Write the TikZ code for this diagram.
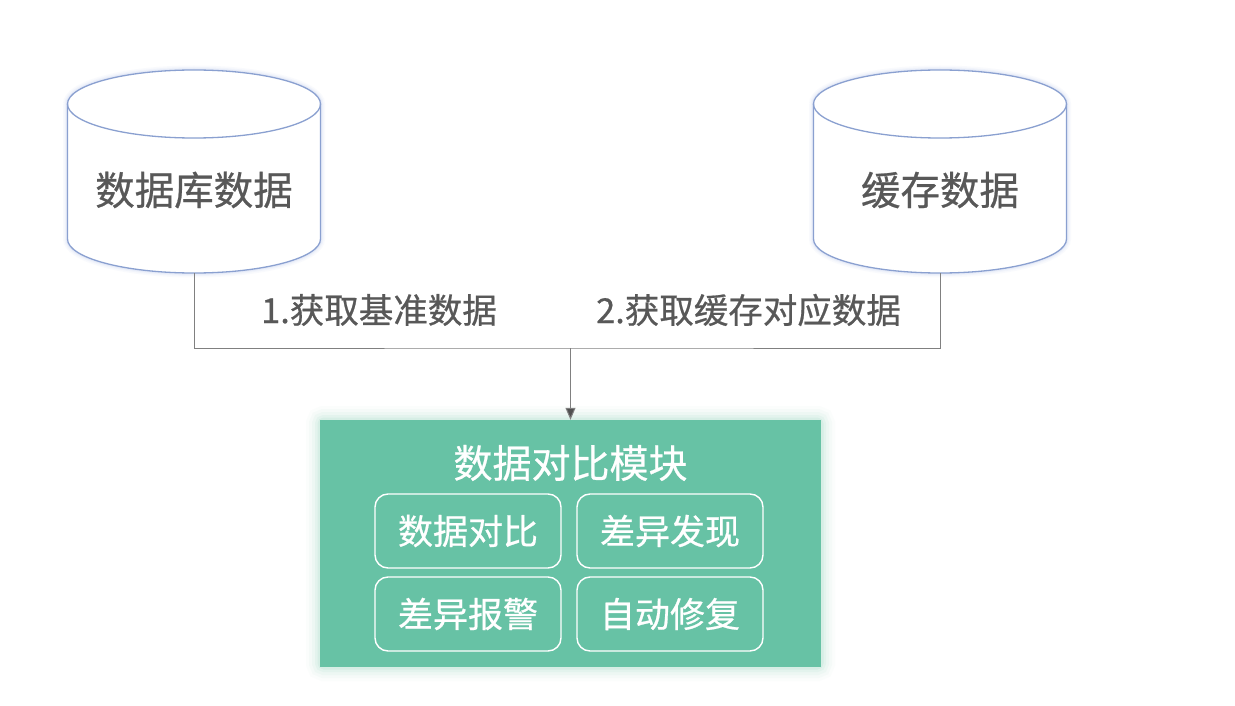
\documentclass[tikz,border=0pt]{standalone}
\usepackage{fontspec}
\setmainfont{Noto Sans CJK SC}
\newfontfamily\medfont{Noto Sans CJK SC}[FakeBold=0.6]
\usetikzlibrary{arrows.meta}
\definecolor{cylblue}{RGB}{138,160,208}
\definecolor{glowblue}{RGB}{200,212,240}
\definecolor{txtgray}{RGB}{88,88,88}
\definecolor{lingray}{RGB}{128,128,128}
\definecolor{tipgray}{RGB}{80,80,80}
\definecolor{modgreen}{RGB}{103,194,165}
\tikzset{
  cylbody/.style={minimum width=253pt, minimum height=203pt, inner sep=0pt},
  cyltext/.style={text=txtgray, font=\medfont\fontsize{39.5}{44}\selectfont, inner sep=0pt},
  steplabel/.style={text=txtgray, font=\medfont\fontsize{34.5}{40}\selectfont, inner sep=0pt},
  modbox/.style={fill=modgreen, minimum width=501pt, minimum height=247pt, inner sep=0pt},
  modtitle/.style={text=white, font=\medfont\fontsize{39}{44}\selectfont, inner sep=0pt},
  subbox/.style={draw=white, line width=1.4pt, rounded corners=13pt, minimum width=186pt, minimum height=74pt, text=white, font=\medfont\fontsize{35}{40}\selectfont, inner sep=0pt},
  conn/.style={draw=lingray, line width=1pt},
}
\newcommand\mycyl[1]{%
  \foreach \w/\o in {9/0.10,6/0.15,3.5/0.25}{
    \draw[glowblue, line width=\w pt, opacity=\o] (#1-126.5,104) -- (#1-126.5,239) arc[start angle=180, end angle=0, x radius=126.5, y radius=34] -- (#1+126.5,104) arc[start angle=0, end angle=-180, x radius=126.5, y radius=34];
  }
  \fill[white] (#1-126.5,104) -- (#1-126.5,239) arc[start angle=180, end angle=0, x radius=126.5, y radius=34] -- (#1+126.5,104) arc[start angle=0, end angle=-180, x radius=126.5, y radius=34];
  \draw[cylblue, line width=1.3pt] (#1,104) ellipse[x radius=126.5, y radius=34];
  \draw[cylblue, line width=1.3pt] (#1-126.5,104) -- (#1-126.5,239) arc[start angle=180, end angle=0, x radius=126.5, y radius=34] -- (#1+126.5,104);
}
\begin{document}
\begin{tikzpicture}[x=1pt,y=-1pt]
\useasboundingbox[fill=white] (0,0) rectangle (1235,706);
% cylinders
\mycyl{194}
\mycyl{940}
\node[cylbody] (db) at (194,171.5) {};
\node[cylbody] (cache) at (940,171.5) {};
\node[cyltext] (dbt) at (194,190) {数据库数据};
\node[cyltext] (cachet) at (940,190) {缓存数据};
% module glow
\foreach \w/\o in {28/0.025,22/0.035,16/0.05,10/0.07,5/0.1}{
  \draw[modgreen, line width=\w pt, opacity=\o, rounded corners=4pt] (320,420) rectangle (821,667);
}
\node[modbox] (mod) at (570.5,543.5) {};
\node[modtitle] (title) at (570.5,463) {数据对比模块};
\node[subbox] (s1) at (468,531) {数据对比};
\node[subbox] (s2) at (670,531) {差异发现};
\node[subbox] (s3) at (468,614) {差异报警};
\node[subbox] (s4) at (670,614) {自动修复};
% connectors
\coordinate (mid) at (570.5,348);
\draw[conn] (db.south) |- (mid) -| (cache.south);
\draw[conn, -{Triangle[length=12pt, width=10pt, fill=tipgray]}] (mid) -- (mod.north);
\node[steplabel] (l1) at (379,310) {1.获取基准数据};
\node[steplabel] (l2) at (748.5,310) {2.获取缓存对应数据};
\end{tikzpicture}
\end{document}
